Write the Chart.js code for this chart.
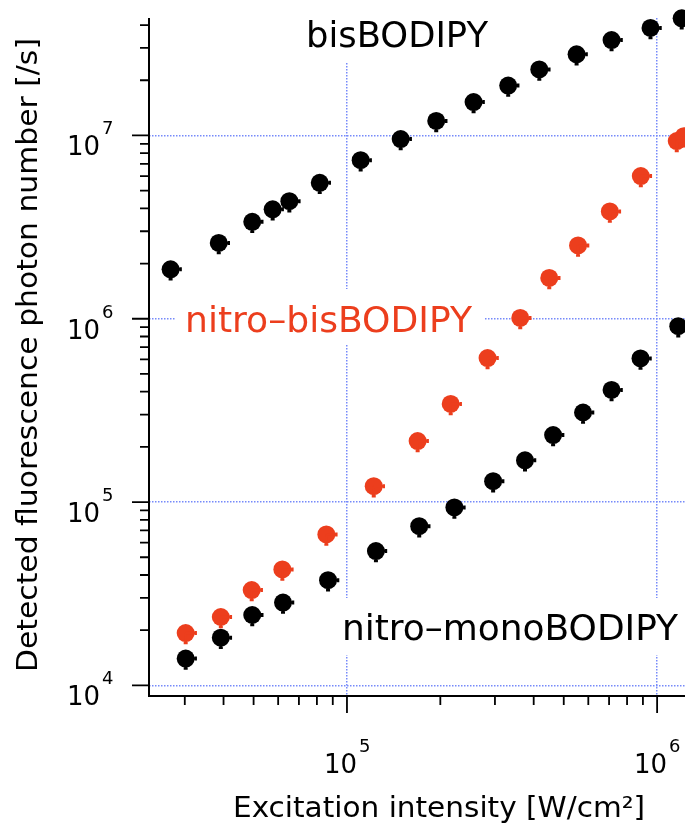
<!DOCTYPE html>
<html>
<head>
<meta charset="utf-8">
<script src="https://cdn.jsdelivr.net/npm/chart.js@4.4.1/dist/chart.umd.min.js"></script>
<style>
  html, body { margin: 0; padding: 0; background: #fff; }
  #wrap { width: 685px; height: 823px; }
</style>
</head>
<body>
<div id="wrap"><canvas id="chart" width="685" height="823"></canvas></div>
<script>
// values (x: W/cm2, y: photons/s)
const bisX = [2.70e4, 3.86e4, 4.95e4, 5.76e4, 6.52e4, 8.17e4, 1.107e5, 1.49e5, 1.94e5, 2.56e5, 3.31e5, 4.17e5, 5.50e5, 7.13e5, 9.52e5, 1.20e6];
const bisY = [1.86e6, 2.59e6, 3.38e6, 3.95e6, 4.38e6, 5.51e6, 7.33e6, 9.55e6, 1.20e7, 1.52e7, 1.87e7, 2.29e7, 2.77e7, 3.31e7, 3.86e7, 4.35e7];

const nitroBisX = [3.02e4, 3.92e4, 4.93e4, 6.19e4, 8.58e4, 1.22e5, 1.69e5, 2.16e5, 2.84e5, 3.62e5, 4.49e5, 5.56e5, 7.04e5, 8.86e5, 1.157e6, 1.22e6];
const nitroBisY = [1.93e4, 2.36e4, 3.31e4, 4.29e4, 6.66e4, 1.22e5, 2.15e5, 3.43e5, 6.10e5, 1.01e6, 1.67e6, 2.51e6, 3.85e6, 6.00e6, 9.31e6, 9.91e6];

const nitroMonoX = [3.02e4, 3.92e4, 4.95e4, 6.22e4, 8.69e4, 1.24e5, 1.71e5, 2.22e5, 2.96e5, 3.75e5, 4.62e5, 5.77e5, 7.13e5, 8.84e5, 1.17e6];
const nitroMonoY = [1.40e4, 1.82e4, 2.42e4, 2.83e4, 3.75e4, 5.40e4, 7.39e4, 9.34e4, 1.30e5, 1.69e5, 2.32e5, 3.08e5, 4.09e5, 6.07e5, 9.11e5];

const xMin = 2.3e4, xMax = 1.23e6;
const yMin = 8.75e3, yMax = 4.37e7;

const xTicks = [3e4, 4e4, 5e4, 6e4, 7e4, 8e4, 9e4, 1e5, 2e5, 3e5, 4e5, 5e5, 6e5, 7e5, 8e5, 9e5, 1e6];
const yTicks = [1e4, 2e4, 3e4, 4e4, 5e4, 6e4, 7e4, 8e4, 9e4,
                1e5, 2e5, 3e5, 4e5, 5e5, 6e5, 7e5, 8e5, 9e5,
                1e6, 2e6, 3e6, 4e6, 5e6, 6e6, 7e6, 8e6, 9e6,
                1e7, 2e7, 3e7, 4e7];
const xTickLabels = [1e5, 1e6];
const yTickLabels = [1e4, 1e5, 1e6, 1e7];

const RED = "#ec3e1d";
const BLACK = "#000000";
const GRID = "rgb(118,138,250)";
const FONT = "'DejaVu Sans'";

function isDecade(v) {
    const l = Math.log10(v);
    return Math.abs(l - Math.round(l)) < 1e-9;
}

function pts(xs, ys) {
    return xs.map((x, i) => ({ x: x, y: ys[i] }));
}

function fitText(ctx, str, x, y, w, align) {
    const m = ctx.measureText(str).width;
    ctx.save();
    ctx.translate(x, y);
    ctx.scale(w / m, 1);
    ctx.textAlign = align;
    ctx.fillText(str, 0, 0);
    ctx.restore();
}

const labelsPlugin = {
    id: "labels",
    beforeDatasetsDraw(chart) {
        const ctx = chart.ctx;
        ctx.save();
        ctx.fillStyle = "#fff";
        ctx.fillRect(300, 14, 195, 48);
        ctx.fillRect(175, 289, 310, 56);
        ctx.fillRect(332, 598, 353, 57);
        ctx.textBaseline = "alphabetic";
        ctx.font = "35px " + FONT;
        ctx.fillStyle = BLACK;
        fitText(ctx, "bisBODIPY", 306, 47, 182, "left");
        ctx.fillStyle = RED;
        fitText(ctx, "nitro\u2013bisBODIPY", 185, 332, 287, "left");
        ctx.fillStyle = BLACK;
        fitText(ctx, "nitro\u2013monoBODIPY", 678, 640, 336, "right");
        ctx.restore();
    }
};

const errBars = {
    id: "errBars",
    afterDatasetsDraw(chart) {
        const ctx = chart.ctx;
        chart.data.datasets.forEach((ds, i) => {
            const meta = chart.getDatasetMeta(i);
            ctx.save();
            ctx.strokeStyle = ds.backgroundColor;
            ctx.lineWidth = 2.5;
            meta.data.forEach(p => {
                const r = 9;
                ctx.beginPath();
                ctx.moveTo(p.x, p.y); ctx.lineTo(p.x, p.y + r + 2);
                ctx.moveTo(p.x - 2, p.y + r + 1); ctx.lineTo(p.x + 2, p.y + r + 1);
                ctx.moveTo(p.x, p.y); ctx.lineTo(p.x + r + 2, p.y);
                ctx.moveTo(p.x + r + 1, p.y - 2); ctx.lineTo(p.x + r + 1, p.y + 2);
                ctx.stroke();
            });
            ctx.restore();
        });
    }
};

const axesPlugin = {
    id: "axes",
    afterDraw(chart) {
        const { ctx, chartArea: a, scales } = chart;
        const xs = scales.x, ys = scales.y;
        ctx.save();
        ctx.strokeStyle = BLACK;
        ctx.lineWidth = 2;
        ctx.beginPath();
        ctx.moveTo(a.left, a.top);
        ctx.lineTo(a.left, a.bottom);
        ctx.lineTo(a.right, a.bottom);
        ctx.stroke();

        ctx.lineWidth = 1.8;
        ctx.beginPath();
        xTicks.forEach(v => {
            const px = xs.getPixelForValue(v);
            const len = isDecade(v) ? 17 : 9;
            ctx.moveTo(px, a.bottom);
            ctx.lineTo(px, a.bottom + len);
        });
        yTicks.forEach(v => {
            const py = ys.getPixelForValue(v);
            const len = isDecade(v) ? 17 : 9;
            ctx.moveTo(a.left - len, py);
            ctx.lineTo(a.left, py);
        });
        ctx.stroke();

        // tick labels 10^n
        ctx.fillStyle = BLACK;
        ctx.textBaseline = "alphabetic";
        yTickLabels.forEach(v => {
            const py = ys.getPixelForValue(v);
            ctx.font = "26px " + FONT;
            ctx.textAlign = "right";
            ctx.fillText("10", 100, py + 20);
            ctx.font = "18px " + FONT;
            ctx.textAlign = "left";
            ctx.fillText(String(Math.round(Math.log10(v))), 102, py - 1);
        });
        xTickLabels.forEach(v => {
            const px = xs.getPixelForValue(v);
            ctx.font = "26px " + FONT;
            ctx.textAlign = "right";
            ctx.fillText("10", px + 10, 773);
            ctx.font = "18px " + FONT;
            ctx.textAlign = "left";
            ctx.fillText(String(Math.round(Math.log10(v))), px + 12, 752);
        });

        // axis titles
        ctx.font = "28px " + FONT;
        fitText(ctx, "Excitation intensity [W/cm\u00b2]", 439, 817, 412, "center");
        ctx.save();
        ctx.translate(37, 355);
        ctx.rotate(-Math.PI / 2);
        fitText(ctx, "Detected fluorescence photon number [/s]", 0, 0, 634, "center");
        ctx.restore();
        ctx.restore();
    }
};

const gridColor = c => (c.tick && isDecade(c.tick.value)) ? GRID : "rgba(0,0,0,0)";

new Chart(document.getElementById("chart"), {
    type: "scatter",
    data: {
        datasets: [
            { label: "nitro-monoBODIPY", data: pts(nitroMonoX, nitroMonoY), backgroundColor: BLACK, borderColor: BLACK, pointRadius: 9, borderWidth: 0, clip: false },
            { label: "bisBODIPY", data: pts(bisX, bisY), backgroundColor: BLACK, borderColor: BLACK, pointRadius: 9, borderWidth: 0, clip: false },
            { label: "nitro-bisBODIPY", data: pts(nitroBisX, nitroBisY), backgroundColor: RED, borderColor: RED, pointRadius: 9, borderWidth: 0, clip: false }
        ]
    },
    options: {
        responsive: false,
        devicePixelRatio: 1,
        animation: false,
        layout: { autoPadding: false, padding: { top: 18, right: 0, left: 0, bottom: 0 } },
        plugins: { legend: { display: false }, tooltip: { enabled: false } },
        scales: {
            x: {
                type: "logarithmic",
                position: "bottom",
                min: xMin, max: xMax,
                afterBuildTicks: s => { s.ticks = xTicks.map(v => ({ value: v })); },
                afterFit: s => { s.height = 127; },
                ticks: { display: false },
                grid: { color: gridColor, lineWidth: 1.5, drawTicks: false },
                border: { display: false, dash: [1.5, 1.5] }
            },
            y: {
                type: "logarithmic",
                position: "left",
                min: yMin, max: yMax,
                afterBuildTicks: s => { s.ticks = yTicks.map(v => ({ value: v })); },
                afterFit: s => { s.width = 149; },
                ticks: { display: false },
                grid: { color: gridColor, lineWidth: 1.5, drawTicks: false },
                border: { display: false, dash: [1.5, 1.5] }
            }
        }
    },
    plugins: [labelsPlugin, errBars, axesPlugin]
});
</script>
</body>
</html>
